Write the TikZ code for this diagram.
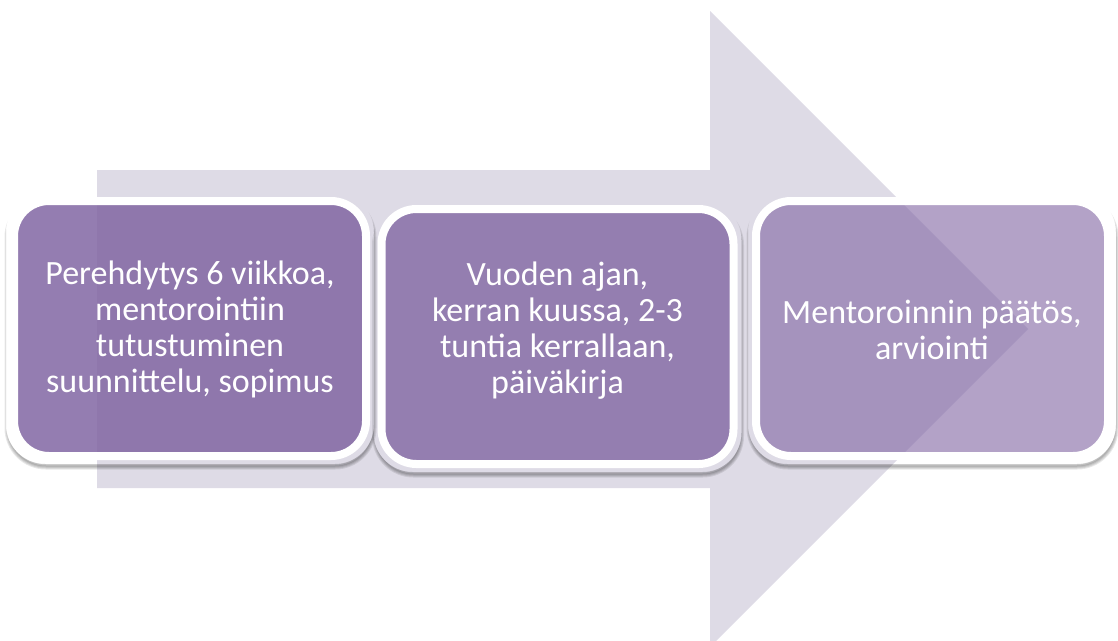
\documentclass[tikz,border=0pt]{standalone}
\usepackage{fontspec}
\setmainfont{Carlito}
\usetikzlibrary{calc}
\definecolor{arrowfill}{HTML}{DEDBE6}
\definecolor{boxfill}{HTML}{8064A2}
\begin{document}
\begin{tikzpicture}[x=1pt,y=-1pt,
  stage/.style={draw=white, line width=8pt, fill=boxfill, rounded corners=35pt,
    minimum width=352pt, minimum height=255pt, inner sep=0pt},
  stagetext/.style={text=white, align=center, inner sep=0pt,
    font=\fontsize{34}{36}\selectfont},
]
\useasboundingbox (0,0) rectangle (1118,640);
\clip (0,0) rectangle (1118,640);

% big background arrow
\fill[arrowfill] (97,170) -- (710,170) -- (710,11) -- (1028,329)
  -- (710,647) -- (710,488) -- (97,488) -- cycle;

% the three stages
\node[stage, fill opacity=0.84] (s1) at (190,328.5) {};
\node[stage, fill opacity=0.78] (s2) at (557.5,336.5) {};
\node[stage, fill opacity=0.6] (s3) at (932,328.5) {};

% soft drop shadows, kept outside each stage
\foreach \s in {s1,s2,s3}{
  \begin{scope}[even odd rule]
    \clip (0,0) rectangle (1118,640)
      [rounded corners=39pt] ($(\s.north west)+(-4,-4)$) rectangle ($(\s.south east)+(4,4)$);
    \foreach \w in {1,3,5,7}
      \draw[black, opacity=0.09, line width=\w pt, rounded corners=38pt]
        ($(\s.north west)+(-2,2)$) rectangle ($(\s.south east)+(3,6)$);
  \end{scope}
}

% stage texts
\node[stagetext] (t1) at ($(s1.center)+(0,1)$)
  {Perehdytys 6 viikkoa,\\mentorointiin\\tutustuminen\\suunnittelu, sopimus};
\node[stagetext] (t2) at ($(s2.center)+(0,-6)$)
  {Vuoden ajan,\\kerran kuussa, 2-3\\tuntia kerrallaan,\\päiväkirja};
\node[stagetext] (t3) at ($(s3.center)+(0,1)$)
  {Mentoroinnin päätös,\\arviointi};
\end{tikzpicture}
\end{document}
